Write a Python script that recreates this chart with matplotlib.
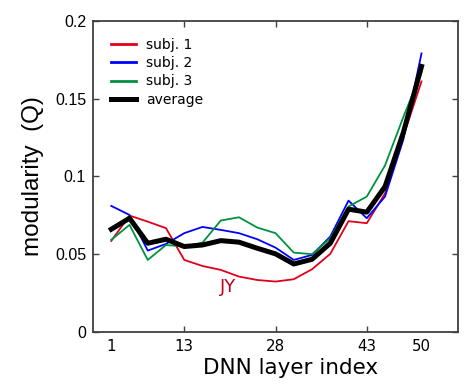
import matplotlib
matplotlib.use("Agg")
import matplotlib.pyplot as plt
import numpy as np

# point index along the x axis (one point per sampled layer)
point_idx = np.arange(1, 19)
tick_pos = [1, 5, 10, 15, 18]
tick_labels = ["1", "13", "28", "43", "50"]

subj1 = [0.0585, 0.0748, 0.0709, 0.0667, 0.0463, 0.0424, 0.0399, 0.0356, 0.0334,
         0.0324, 0.0339, 0.0403, 0.0502, 0.0712, 0.0699, 0.089, 0.1256, 0.161]
subj2 = [0.081, 0.0752, 0.0523, 0.0566, 0.0635, 0.0675, 0.0656, 0.0635, 0.0596,
         0.0542, 0.0463, 0.0495, 0.0613, 0.0844, 0.0731, 0.087, 0.1235, 0.179]
subj3 = [0.0592, 0.0688, 0.0463, 0.0559, 0.0549, 0.0574, 0.0716, 0.0737, 0.0671,
         0.0635, 0.051, 0.050, 0.0602, 0.0806, 0.087, 0.107, 0.138, 0.167]
average = [0.066, 0.0731, 0.057, 0.0596, 0.0549, 0.0559, 0.0587, 0.0577, 0.0538,
           0.0502, 0.0437, 0.0467, 0.057, 0.0789, 0.077, 0.0934, 0.128, 0.1706]

yticks = [0, 0.05, 0.1, 0.15, 0.2]
ytick_labels = ["0", "0.05", "0.1", "0.15", "0.2"]

fig = plt.figure(figsize=(4.65, 3.85), dpi=100)
ax = fig.add_axes([0.2, 0.1377, 0.785, 0.8085])

ax.plot(point_idx, subj1, color="#e0001b", lw=1.3, label="subj. 1")
ax.plot(point_idx, subj2, color="#0000ff", lw=1.3, label="subj. 2")
ax.plot(point_idx, subj3, color="#009140", lw=1.3, label="subj. 3")
ax.plot(point_idx, average, color="black", lw=3.6, label="average")

ax.text(7.4, 0.029, "JY", color="#c0001a", fontsize=13, ha="center", va="center")

ax.set_xlim(0, 20)
ax.set_ylim(0, 0.2)
ax.set_xticks(tick_pos)
ax.set_xticklabels(tick_labels, fontsize=10.8)
ax.set_yticks(yticks)
ax.set_yticklabels(ytick_labels, fontsize=11.5, family="Liberation Sans")
ax.tick_params(direction="in", top=True, right=True, length=4, width=1,
               color="#404040", pad=5)
for i in (0, -1):
    t = ax.xaxis.get_major_ticks()[i]
    t.tick1line.set_visible(False)
    t.tick2line.set_visible(False)

for sp in ax.spines.values():
    sp.set_color("#404040")
    sp.set_linewidth(1.3)

ax.set_xlabel("DNN layer index", fontsize=15.5)
ax.xaxis.set_label_coords(0.54, -0.085)
ax.set_ylabel("modularity  (Q)", fontsize=17.5, family="Liberation Sans", labelpad=8)

leg = ax.legend(loc="upper left", bbox_to_anchor=(0.049, 0.944), frameon=False,
                fontsize=10, handlelength=1.8, handletextpad=0.72,
                labelspacing=0.3, borderpad=0, borderaxespad=0)
for ln in leg.get_lines()[:3]:
    ln.set_linewidth(2)

fig.savefig("out.png", dpi=100)
